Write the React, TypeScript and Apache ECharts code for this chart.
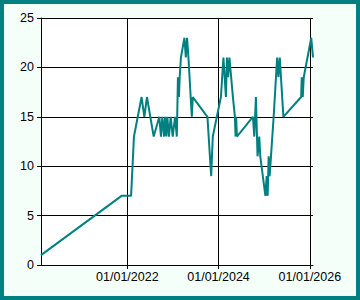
import React, { useEffect, useRef } from "react";
import * as echarts from "echarts";

const dates = [
  "2020-02-10", "2021-11-16", "2022-01-31", "2022-02-23", "2022-04-25", "2022-05-17",
  "2022-06-07", "2022-07-31", "2022-09-14", "2022-09-27", "2022-10-08", "2022-10-22",
  "2022-10-30", "2022-11-09", "2022-11-17", "2022-11-30", "2022-12-14", "2022-12-30",
  "2023-01-18", "2023-02-01", "2023-02-10", "2023-02-18", "2023-02-24", "2023-03-06",
  "2023-04-03", "2023-04-14", "2023-04-24", "2023-05-05", "2023-06-01", "2023-06-09",
  "2023-10-04", "2023-11-03", "2023-11-16", "2024-01-20", "2024-02-09", "2024-02-29",
  "2024-03-08", "2024-03-18", "2024-03-28", "2024-04-25", "2024-05-11", "2024-05-16",
  "2024-05-21", "2024-05-27", "2024-10-02", "2024-10-13", "2024-10-26", "2024-11-08",
  "2024-11-22", "2024-11-30", "2025-01-10", "2025-01-20", "2025-01-28", "2025-02-05",
  "2025-02-13", "2025-03-17", "2025-04-14", "2025-04-24", "2025-05-05", "2025-06-03",
  "2025-10-23", "2025-10-28", "2025-11-05", "2025-11-13", "2026-01-12", "2026-01-26",
];

const values = [
  1, 7, 7, 13, 17, 15,
  17, 13, 15, 13, 15, 13,
  15, 13, 15, 13, 15, 13,
  15, 13, 19, 17, 19, 21,
  23, 21, 23, 21, 15, 17,
  15, 9, 13, 17, 21, 17,
  21, 19, 21, 17, 15, 13,
  15, 13, 15, 13, 17, 11,
  13, 11, 7, 9, 7, 11,
  9, 15, 21, 19, 21, 15,
  17, 19, 17, 19, 23, 21,
];

const xTickDates = ["2022-01-01", "2024-01-01", "2026-01-01"];
const yMin = 0;
const yMax = 25;
const yStep = 5;

function ts(d: string): number {
  const [y, m, dd] = d.split("-").map(Number);
  return Date.UTC(y, m - 1, dd);
}

function pad(n: number): string {
  return n < 10 ? "0" + n : String(n);
}

function fmt(v: number): string {
  const d = new Date(v);
  return pad(d.getUTCDate()) + "/" + pad(d.getUTCMonth() + 1) + "/" + d.getUTCFullYear();
}

export default function App() {
  const ref = useRef<HTMLDivElement>(null);

  useEffect(() => {
    if (!ref.current) return;
    const chart = echarts.init(ref.current, undefined, { renderer: "svg" });
    const xTicks = xTickDates.map(ts);
    const seriesData = dates.map((d, i) => [ts(d), values[i]]);
    const font = "'Liberation Sans', Arial, sans-serif";
    chart.setOption({
      animation: false,
      backgroundColor: "transparent",
      grid: {
        left: 37,
        top: 14,
        right: 43,
        bottom: 31,
        show: true,
        backgroundColor: "#ffffff",
        borderWidth: 0,
        containLabel: false,
        outerBoundsMode: "none",
      },
      xAxis: {
        type: "value",
        min: ts(dates[0]),
        max: ts(dates[dates.length - 1]),
        axisLine: { show: true, lineStyle: { color: "#000", width: 1 } },
        axisTick: { show: true, length: 4, customValues: xTicks, lineStyle: { color: "#000" } },
        axisLabel: {
          show: true,
          customValues: xTicks,
          formatter: (v: number) => fmt(v),
          color: "#000",
          fontSize: 12.5,
          fontFamily: font,
          margin: 5,
        },
        splitLine: { show: true, lineStyle: { color: "#000", width: 1 } },
      },
      yAxis: {
        type: "value",
        min: yMin,
        max: yMax,
        interval: yStep,
        axisLine: { show: true, lineStyle: { color: "#000", width: 1 } },
        axisTick: { show: true, length: 4, lineStyle: { color: "#000" } },
        axisLabel: {
          show: true,
          color: "#000",
          fontSize: 12.5,
          fontFamily: font,
          margin: 7,
        },
        splitLine: { show: true, lineStyle: { color: "#000", width: 1 } },
      },
      series: [
        {
          type: "line",
          data: seriesData,
          showSymbol: false,
          symbol: "none",
          lineStyle: { color: "#008080", width: 2 },
          itemStyle: { color: "#008080" },
          clip: true,
        },
      ],
    });
    return () => chart.dispose();
  }, []);

  return (
    <div
      style={{
        position: "absolute",
        left: 0,
        top: 0,
        width: 360,
        height: 300,
        boxSizing: "border-box",
        border: "4px solid #008080",
        background: "#F5FFFA",
      }}
    >
      <div ref={ref} style={{ width: 352, height: 292 }} />
    </div>
  );
}
